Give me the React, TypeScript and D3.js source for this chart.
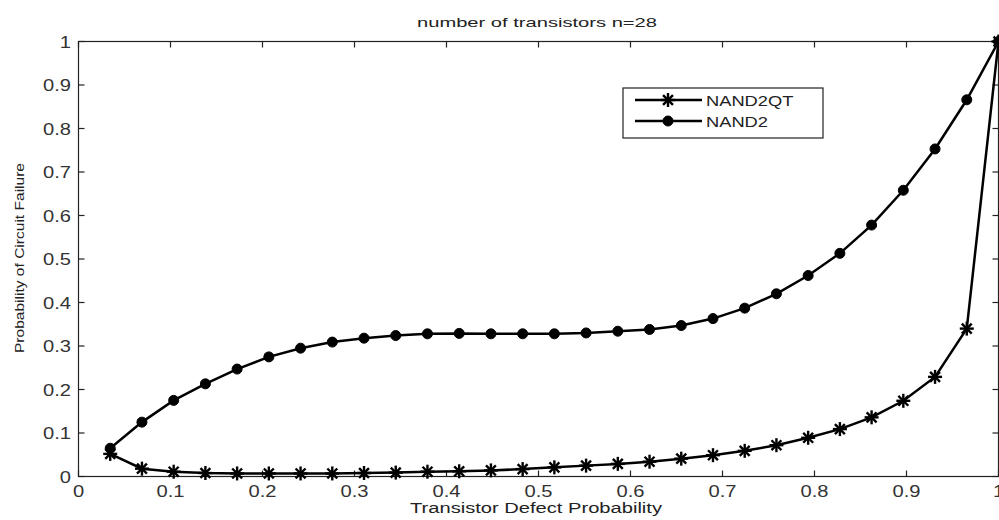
import React from "react";
import * as d3 from "d3";

const xValues = [
  1 / 29, 2 / 29, 3 / 29, 4 / 29, 5 / 29, 6 / 29, 7 / 29, 8 / 29, 9 / 29, 10 / 29,
  11 / 29, 12 / 29, 13 / 29, 14 / 29, 15 / 29, 16 / 29, 17 / 29, 18 / 29, 19 / 29, 20 / 29,
  21 / 29, 22 / 29, 23 / 29, 24 / 29, 25 / 29, 26 / 29, 27 / 29, 28 / 29, 1,
];
const nand2 = [
  0.065, 0.125, 0.175, 0.213, 0.247, 0.275, 0.295, 0.309, 0.318, 0.324,
  0.328, 0.329, 0.328, 0.328, 0.328, 0.330, 0.334, 0.338, 0.347, 0.363,
  0.387, 0.420, 0.462, 0.513, 0.578, 0.658, 0.753, 0.866, 1.0,
];
const nand2qt = [
  0.052, 0.018, 0.011, 0.008, 0.007, 0.007, 0.007, 0.007, 0.008, 0.009,
  0.011, 0.012, 0.014, 0.017, 0.021, 0.025, 0.029, 0.034, 0.041, 0.049,
  0.059, 0.072, 0.089, 0.109, 0.136, 0.174, 0.229, 0.340, 1.0,
];
const xTicks = [0, 0.1, 0.2, 0.3, 0.4, 0.5, 0.6, 0.7, 0.8, 0.9, 1];
const yTicks = [0, 0.1, 0.2, 0.3, 0.4, 0.5, 0.6, 0.7, 0.8, 0.9, 1];
const seriesNames = ["NAND2QT", "NAND2"];
const title = "number of transistors n=28";
const xLabel = "Transistor Defect Probability";
const yLabel = "Probability of Circuit Failure";

const W = 999;
const H = 520;
const L = 78.5, R = 998.5, T = 41.5, B = 476.5;
const FONT = "'Liberation Sans', Arial, sans-serif";

function Star({ x, y, r }: { x: number; y: number; r: number }) {
  const d = 0.7071 * r;
  return (
    <g stroke="#000" strokeWidth={2.4}>
      <line x1={x - r} y1={y} x2={x + r} y2={y} />
      <line x1={x} y1={y - r} x2={x} y2={y + r} />
      <line x1={x - d} y1={y - d} x2={x + d} y2={y + d} />
      <line x1={x - d} y1={y + d} x2={x + d} y2={y - d} />
    </g>
  );
}

function Dot({ x, y }: { x: number; y: number }) {
  return <circle cx={x} cy={y} r={5} fill="#000" stroke="#000" strokeWidth={1} />;
}

function fmt(v: number) {
  return v === 0 || v === 1 ? String(v) : v.toFixed(1);
}

export default function App() {
  const x = d3.scaleLinear().domain([0, 1]).range([L, R]);
  const y = d3.scaleLinear().domain([0, 1]).range([B, T]);
  const line = d3
    .line<number>()
    .x((_, i) => x(xValues[i]))
    .y((d) => y(d));
  const sx = 1.26;
  const legX = 623, legY = 88, legW = 200, legH = 50;
  const rows = [100, 121];

  return (
    <svg
      width={W}
      height={H}
      style={{ position: "absolute", left: 0, top: 0, background: "#fff" }}
      fontFamily={FONT}
    >
      <rect x={0} y={0} width={W} height={H} fill="#fff" />
      <text x={537} y={27} fontSize={13} textAnchor="middle" fill="#222" textLength={240} lengthAdjust="spacingAndGlyphs">
        {title}
      </text>
      <rect x={L} y={T} width={R - L} height={B - T} fill="none" stroke="#222" strokeWidth={1.2} />
      {xTicks.map((t) => (
        <g key={"x" + t}>
          <line x1={x(t)} x2={x(t)} y1={B} y2={B - 6} stroke="#222" strokeWidth={1.2} />
          <line x1={x(t)} x2={x(t)} y1={T} y2={T + 6} stroke="#222" strokeWidth={1.2} />
          <text
            transform={`translate(${x(t)},497) scale(${sx},1)`}
            fontSize={16}
            textAnchor="middle"
            fill="#333"
          >
            {fmt(t)}
          </text>
        </g>
      ))}
      {yTicks.map((t) => (
        <g key={"y" + t}>
          <line x1={L} x2={L + 6} y1={y(t)} y2={y(t)} stroke="#222" strokeWidth={1.2} />
          <line x1={R} x2={R - 6} y1={y(t)} y2={y(t)} stroke="#222" strokeWidth={1.2} />
          <text
            transform={`translate(71,${y(t) + 6}) scale(${sx},1)`}
            fontSize={16}
            textAnchor="end"
            fill="#333"
          >
            {fmt(t)}
          </text>
        </g>
      ))}
      <text x={536} y={513} fontSize={14} textAnchor="middle" fill="#222" textLength={252} lengthAdjust="spacingAndGlyphs">
        {xLabel}
      </text>
      <text
        transform={`translate(24,258) rotate(-90)`}
        fontSize={13}
        textAnchor="middle"
        fill="#222"
        textLength={190}
        lengthAdjust="spacingAndGlyphs"
      >
        {yLabel}
      </text>
      <path d={line(nand2qt) || ""} fill="none" stroke="#000" strokeWidth={2.5} />
      <path d={line(nand2) || ""} fill="none" stroke="#000" strokeWidth={2.5} />
      {nand2qt.map((v, i) => (
        <Star key={"s" + i} x={x(xValues[i])} y={y(v)} r={7} />
      ))}
      {nand2.map((v, i) => (
        <Dot key={"c" + i} x={x(xValues[i])} y={y(v)} />
      ))}
      <rect x={legX} y={legY} width={legW} height={legH} fill="#fff" stroke="#222" strokeWidth={1.2} />
      {seriesNames.map((n, i) => (
        <g key={n}>
          <line x1={635} x2={702} y1={rows[i]} y2={rows[i]} stroke="#000" strokeWidth={2.5} />
          {i === 0 ? <Star x={668} y={rows[i]} r={7} /> : <Dot x={668} y={rows[i]} />}
          <text
            transform={`translate(706,${rows[i] + 5.5}) scale(1.22,1)`}
            fontSize={15}
            fill="#222"
          >
            {n}
          </text>
        </g>
      ))}
    </svg>
  );
}
